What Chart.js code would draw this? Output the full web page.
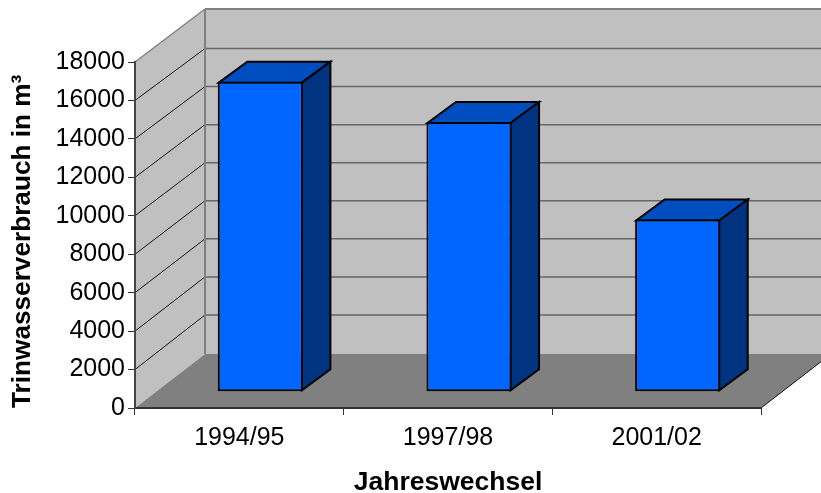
<!DOCTYPE html>
<html><head><meta charset="utf-8">
<style>html,body{margin:0;padding:0;background:#fff}canvas{display:block}</style>
<script src="https://cdn.jsdelivr.net/npm/chart.js@4"></script>
</head><body>
<canvas id="c" width="821" height="493"></canvas>
<script>
const categories = ['1994/95', '1997/98', '2001/02'];
const consumption = [16130, 14030, 8960];
const yTitle = 'Trinwasserverbrauch in m³';
const xTitle = 'Jahreswechsel';

const WALL = {dx: 70, dy: -54};
const BAR_SHIFT = {dx: 21, dy: -16.3};
const BAR_DEPTH = {dx: 28.5, dy: -21};

function poly(ctx, pts, fill, stroke, lw) {
  ctx.beginPath();
  pts.forEach((p, i) => i ? ctx.lineTo(p[0], p[1]) : ctx.moveTo(p[0], p[1]));
  ctx.closePath();
  if (fill) { ctx.fillStyle = fill; ctx.fill(); }
  if (stroke) { ctx.strokeStyle = stroke; ctx.lineWidth = lw; ctx.lineJoin = 'miter'; ctx.stroke(); }
}
function line(ctx, x1, y1, x2, y2, color, lw) {
  ctx.beginPath(); ctx.moveTo(x1, y1); ctx.lineTo(x2, y2);
  ctx.strokeStyle = color; ctx.lineWidth = lw; ctx.stroke();
}

const box3d = {
  id: 'box3d',
  beforeDraw(chart) {
    const {ctx, chartArea: a, scales: {y}, width} = chart;
    const l = a.left, r = a.right, t = a.top, b = a.bottom;
    const bx = l + WALL.dx, by = b + WALL.dy, ty = t + WALL.dy + 1;
    ctx.save();
    poly(ctx, [[bx, ty], [width, ty], [width, by], [bx, by]], '#c0c0c0');
    poly(ctx, [[l, t], [bx, ty], [bx, by], [l, b]], '#c0c0c0');
    const endY = b + (width - r) * WALL.dy / WALL.dx;
    poly(ctx, [[l, b], [bx, by], [width, by], [width, endY], [r, b]], '#808080');
    y.ticks.forEach(tk => {
      if (tk.value === 0 || tk.value === y.max) return;
      const p = y.getPixelForValue(tk.value);
      const back = p - 55 + 0.01 * (b - p);
      line(ctx, bx, back, width, back, '#666666', 1.5);
      line(ctx, l, p, bx, back, '#111111', 1);
    });
    line(ctx, bx, ty, width, ty, '#808080', 2);
    line(ctx, bx, ty, bx, by, '#808080', 2);
    line(ctx, l, t, bx, ty, '#808080', 1.5);
    line(ctx, r, b, width, endY, '#111111', 1);
    ctx.restore();
  },
  beforeDatasetsDraw(chart) {
    const ctx = chart.ctx;
    ctx.save();
    ctx.translate(BAR_SHIFT.dx, BAR_SHIFT.dy);
    chart.getDatasetMeta(0).data.forEach(el => {
      const {x, y, base, width} = el.getProps(['x', 'y', 'base', 'width']);
      const L = x - width / 2 + 1, R = x + width / 2 - 1, T = y + 1, B = base - 1;
      const D = BAR_DEPTH;
      poly(ctx, [[L, T], [L + D.dx, T + D.dy], [R + D.dx, T + D.dy], [R, T]], '#004dbf', '#000', 2);
      poly(ctx, [[R, T], [R + D.dx, T + D.dy], [R + D.dx, B + D.dy], [R, B]], '#003380', '#000', 2);
    });
  },
  afterDatasetsDraw(chart) { chart.ctx.restore(); }
};

new Chart(document.getElementById('c'), {
  type: 'bar',
  data: {
    labels: categories,
    datasets: [{
      data: consumption,
      backgroundColor: '#0066ff',
      borderColor: '#000000',
      borderWidth: 2,
      borderSkipped: false,
      clip: false,
      barPercentage: 0.425,
      categoryPercentage: 0.96
    }]
  },
  plugins: [box3d],
  options: {
    responsive: false,
    animation: false,
    layout: {padding: {top: 62, right: 60, left: 0, bottom: 0}},
    plugins: {legend: {display: false}, tooltip: {enabled: false}},
    scales: {
      x: {
        afterFit(s) { s.height = 85; },
        grid: {drawOnChartArea: false, drawTicks: true, tickLength: 7, color: '#333333', lineWidth: 1, offset: true},
        border: {display: true, color: '#333333', width: 2},
        ticks: {color: '#000000', padding: 8, maxRotation: 0, font: {family: 'Liberation Sans', size: 25}},
        title: {display: true, text: xTitle, color: '#000000', padding: {top: 12, bottom: -6},
                font: {family: 'Liberation Sans', size: 26.5, weight: 'bold'}}
      },
      y: {
        min: 0, max: 18000,
        afterFit(s) { s.width = 135; },
        grid: {drawOnChartArea: false, drawTicks: true, tickLength: 7, color: '#333333', lineWidth: 1},
        border: {display: true, color: '#444444', width: 2},
        ticks: {
          stepSize: 2000, color: '#000000', padding: 3,
          font: {family: 'Liberation Sans', size: 25},
          callback: v => String(v)
        },
        title: {display: true, text: yTitle, align: 'start', color: '#000000', padding: {top: 7, bottom: 0},
                font: {family: 'Liberation Sans', size: 26.2, weight: 'bold'}}
      }
    }
  }
});
</script>
</body></html>
